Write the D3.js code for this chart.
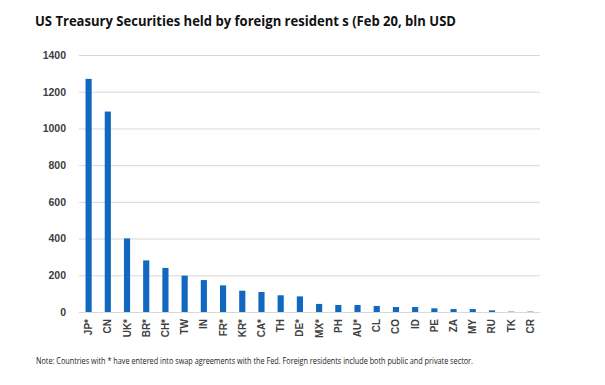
<!DOCTYPE html>
<html>
<head>
<meta charset="utf-8">
<script src="https://cdn.jsdelivr.net/npm/d3@7"></script>
<style>
  body { margin: 0; background: #fff; }
  svg { display: block; }
</style>
</head>
<body>
<div id="bar_graph"></div>
<script>
const countries = ["JP*", "CN", "UK*", "BR*", "CH*", "TW", "IN", "FR*", "KR*", "CA*", "TH", "DE*",
                   "MX*", "PH", "AU*", "CL", "CO", "ID", "PE", "ZA", "MY", "RU", "TK", "CR"];
const holdings = [1270, 1092, 401, 281, 240, 198, 174, 145, 116, 109, 91, 85,
                  44, 38, 38, 33, 27, 27, 20, 16, 16, 9, 2, 2];
const yTicks = [0, 200, 400, 600, 800, 1000, 1200, 1400];

const W = 605, H = 385;
const margin = {top: 55, right: 65, bottom: 73, left: 79};
const width = W - margin.left - margin.right,
      height = H - margin.top - margin.bottom;

const svg = d3.select("#bar_graph")
  .append("svg")
    .attr("width", W)
    .attr("height", H);

svg.append("text")
  .attr("x", 35).attr("y", 26)
  .attr("font-family", "Open Sans, sans-serif")
  .attr("font-weight", "bold")
  .attr("font-size", 14)
  .attr("fill", "#111")
  .attr("textLength", 421)
  .attr("lengthAdjust", "spacingAndGlyphs")
  .text("US Treasury Securities held by foreign resident s (Feb 20, bln USD");

const g = svg.append("g")
  .attr("transform", `translate(${margin.left},${margin.top})`);

const x = d3.scaleBand().domain(countries).range([0, width]).paddingInner(0.68).paddingOuter(0.34);
const y = d3.scaleLinear().domain([0, 1400]).range([height, 0]);

// gridlines
g.append("g")
  .call(d3.axisLeft(y).tickValues(yTicks).tickSize(-width).tickFormat(""))
  .call(a => a.select(".domain").remove())
  .call(a => a.selectAll("line").attr("stroke", "#d9d9d9").attr("stroke-width", 1));

// y labels
g.append("g")
  .call(d3.axisLeft(y).tickValues(yTicks).tickSize(0).tickPadding(13).tickFormat(d3.format("d")))
  .call(a => a.select(".domain").remove())
  .call(a => a.selectAll("text")
    .attr("font-family", "Liberation Sans, Arial, sans-serif")
    .attr("font-weight", "bold")
    .attr("font-size", 10.5)
    .attr("fill", "#404040"));

g.selectAll(".bar")
  .data(holdings)
  .join("rect")
    .attr("class", "bar")
    .attr("x", (d, i) => x(countries[i]))
    .attr("width", x.bandwidth())
    .attr("y", d => y(d))
    .attr("height", d => height - y(d))
    .attr("fill", "#1068bf");

// x labels, rotated
g.append("g")
  .attr("transform", `translate(0,${height})`)
  .call(d3.axisBottom(x).tickSize(0).tickPadding(0))
  .call(a => a.select(".domain").attr("stroke", "#d9d9d9"))
  .call(a => a.selectAll("text")
    .attr("font-family", "Liberation Sans, Arial, sans-serif")
    .attr("font-weight", "bold")
    .attr("font-size", 10)
    .attr("fill", "#404040")
    .attr("text-anchor", "end")
    .attr("dy", "0.35em")
    .attr("transform", "translate(0,7) rotate(-90)"));

svg.append("text")
  .attr("x", 36).attr("y", 364)
  .attr("font-family", "Open Sans, sans-serif")
  .attr("font-size", 8.3)
  .attr("fill", "#222")
  .attr("textLength", 437)
  .attr("lengthAdjust", "spacingAndGlyphs")
  .text("Note: Countries with * have entered into swap agreements with the Fed. Foreign residents include both public and private sector.");
</script>
</body>
</html>
